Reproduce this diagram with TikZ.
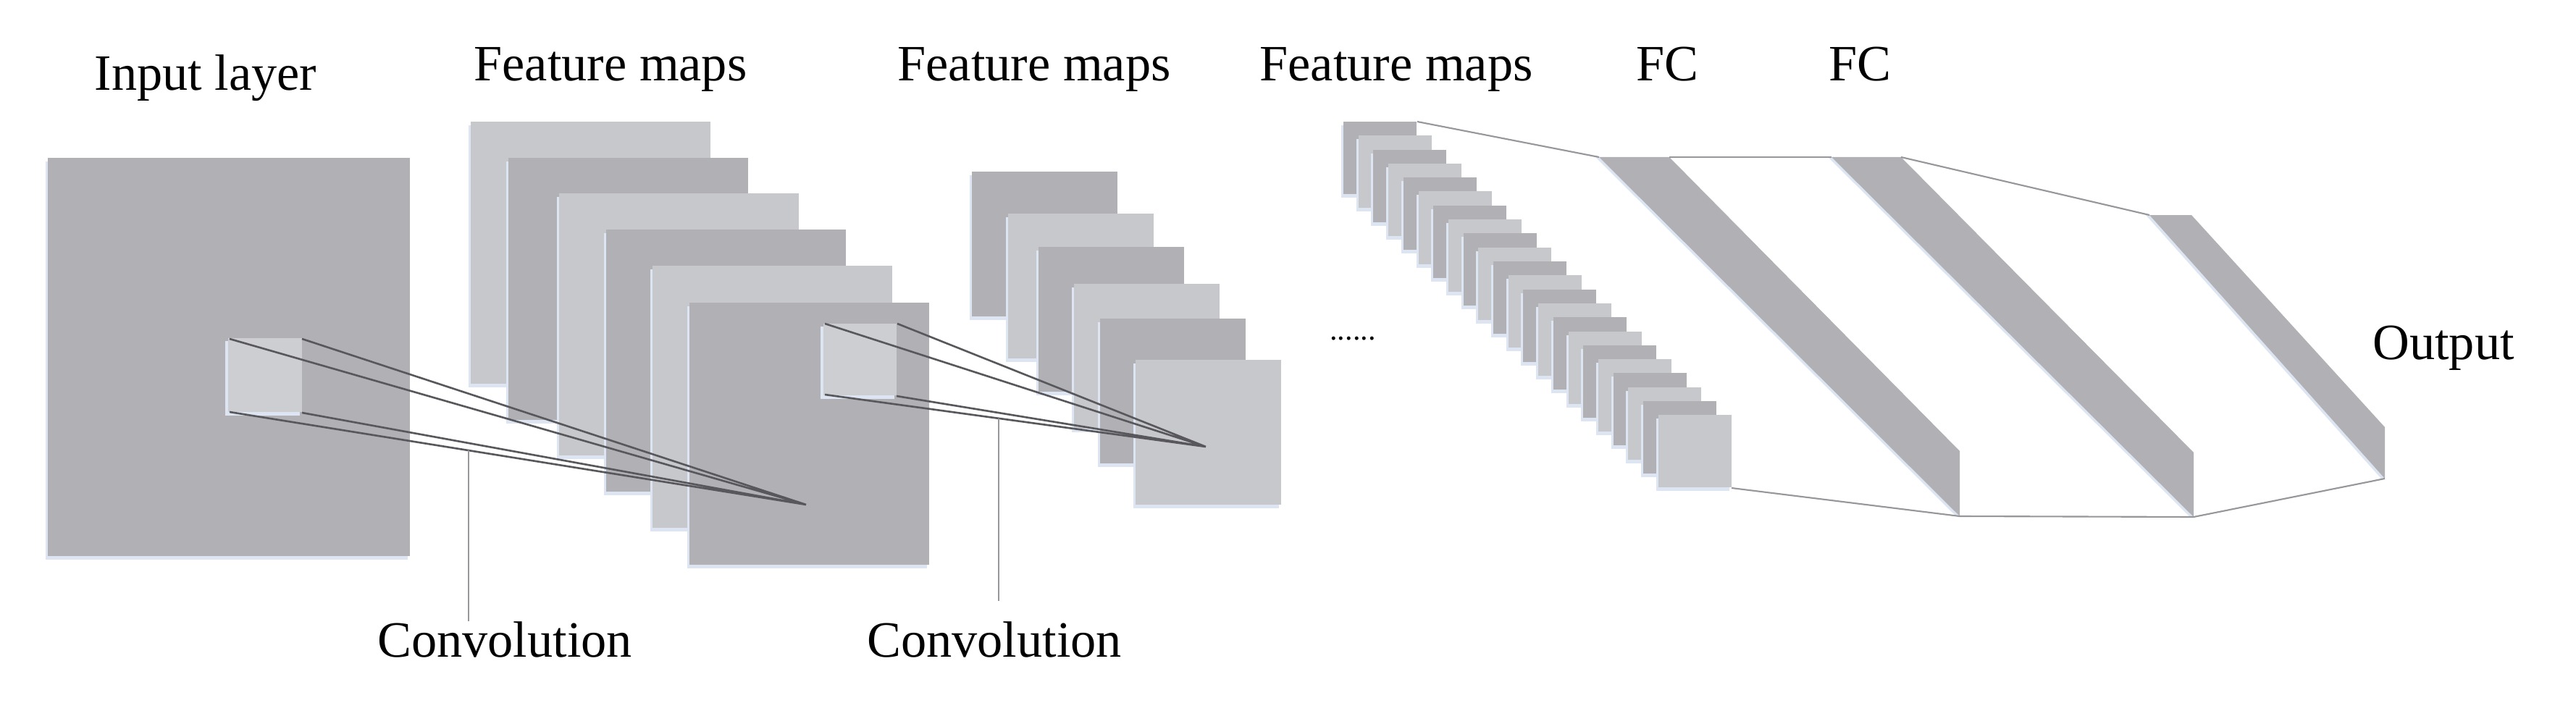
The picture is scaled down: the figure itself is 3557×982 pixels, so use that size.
\documentclass[tikz,border=0pt]{standalone}
\usepackage{fontspec}
\setmainfont{Liberation Serif}
\definecolor{dk}{RGB}{177,177,181}
\definecolor{lt}{RGB}{199,200,203}
\definecolor{cubec}{RGB}{205,206,209}
\definecolor{shd}{RGB}{220,229,241}
\definecolor{cl}{RGB}{88,88,92}
\definecolor{fl}{RGB}{150,150,155}
\tikzset{
  lbl/.style={font=\fontsize{20}{24}\selectfont, inner sep=0pt, anchor=base},
  dots/.style={font=\fontsize{12}{14}\selectfont, inner sep=0pt, anchor=base},
  cone/.style={draw=cl, line width=0.75pt},
  ptr/.style={draw=fl, line width=0.5pt},
  fcline/.style={draw=fl, line width=0.6pt},
  shadow/.style={fill=shd},
}
\newcommand\fmap[5]{%
  \fill[shadow] (#2-3,#3+5) rectangle ++(#4,#5);
  \fill[#1] (#2,#3) rectangle ++(#4,#5);
}
\begin{document}
\begin{tikzpicture}[x=0.01cm,y=-0.01cm]
\useasboundingbox[fill=white] (0,0) rectangle (3557,982);

% labels
\node[lbl] (in)  at (284,125) {Input layer};
\node[lbl] (fm1) at (843,112) {Feature maps};
\node[lbl] (fm2) at (1428,112) {Feature maps};
\node[lbl] (fm3) at (1928,112) {Feature maps};
\node[lbl] (fc1) at (2302,112) {FC};
\node[lbl] (fc2) at (2568,112) {FC};
\node[lbl] (out) at (3374,496) {Output};
\node[lbl] (conv1) at (697,907) {Convolution};
\node[lbl] (conv2) at (1373,907) {Convolution};
\node[dots] (dd) at (1868,469) {......};

% input layer
\fmap{dk}{66}{218}{500}{550}

% feature map stack 1
\foreach \x/\y/\c in {650/168/lt,702/218/dk,772/267/lt,837/317/dk,901/367/lt,952/418/dk}
  {\fmap{\c}{\x}{\y}{331}{362}}

% feature map stack 2
\foreach \x/\y/\c in {1342/237/dk,1392/295/lt,1434/341/dk,1483/392/lt,1519/440/dk,1568/497/lt}
  {\fmap{\c}{\x}{\y}{201}{200}}

% feature map stack 3
\foreach \i in {0,...,21}{
  \pgfmathsetmacro\xx{1855+20.7*\i}
  \pgfmathsetmacro\yy{168+19.3*\i}
  \pgfmathparse{mod(\i,2)==0 ? "dk" : "lt"}
  \edef\cc{\pgfmathresult}
  \fmap{\cc}{\xx}{\yy}{101}{100}
}

% receptive-field cubes
\fill[shadow] (311,471) rectangle (414,574);
\fill[cubec] (315,467) rectangle (417,569);
\fill[shadow] (1133,451) rectangle (1235,551);
\fill[cubec] (1137,447) rectangle (1238,546);

\coordinate (c1a) at (317,468);
\coordinate (c1b) at (417,468);
\coordinate (c1c) at (317,569);
\coordinate (c1d) at (417,570);
\coordinate (ap1) at (1113,697);
\coordinate (c2a) at (1139,447);
\coordinate (c2b) at (1239,447);
\coordinate (c2c) at (1139,545);
\coordinate (c2d) at (1238,547);
\coordinate (ap2) at (1665,617);

\draw[cone] (c1a) -- (ap1) (c1b) -- (ap1) (c1c) -- (ap1) (c1d) -- (ap1);
\draw[cone] (c2a) -- (ap2) (c2b) -- (ap2) (c2c) -- (ap2) (c2d) -- (ap2);

% pointer lines
\coordinate (p1) at (647,622);
\coordinate (p2) at (1379,578);
\coordinate (q2) at (1379,830);
\draw[ptr] (p1) -- (p1 |- conv1.north);
\draw[ptr] (p2) -- (q2);

% fully connected layers
\coordinate (s3tr) at (1957,168);
\coordinate (s3br) at (2391,674);
\coordinate (f1a) at (2208,217);
\coordinate (f1b) at (2305,217);
\coordinate (f1c) at (2706,623);
\coordinate (f1d) at (2706,713);
\coordinate (f2a) at (2529,217);
\coordinate (f2b) at (2625,217);
\coordinate (f2c) at (3029,625);
\coordinate (f2d) at (3029,714);
\coordinate (oa) at (2968,297);
\coordinate (ob) at (3026,297);
\coordinate (oc) at (3293,590);
\coordinate (od) at (3293,661);

\fill[shadow] ([xshift=-0.05cm]f1a) -- ([xshift=-0.05cm]f1d) -- (f1d) -- (f1a) -- cycle;
\fill[dk] (f1a) -- (f1b) -- (f1c) -- (f1d) -- cycle;
\fill[shadow] ([xshift=-0.05cm]f2a) -- ([xshift=-0.05cm]f2d) -- (f2d) -- (f2a) -- cycle;
\fill[dk] (f2a) -- (f2b) -- (f2c) -- (f2d) -- cycle;
\fill[shadow] ([xshift=-0.05cm]oa) -- ([xshift=-0.05cm]od) -- (od) -- (oa) -- cycle;
\fill[dk] (oa) -- (ob) -- (oc) -- (od) -- cycle;

\draw[fcline] (s3tr) -- (f1a);
\draw[fcline] (f1b) -- (f2a);
\draw[fcline] (f2b) -- (oa);
\draw[fcline] (s3br) -- (f1d) -- (f2d) -- (od);
\end{tikzpicture}
\end{document}
